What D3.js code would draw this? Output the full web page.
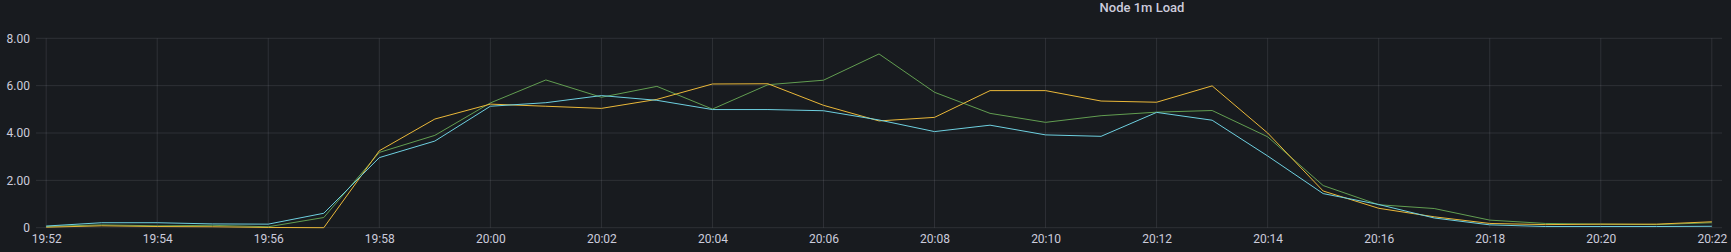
<!DOCTYPE html>
<html>
<head>
<meta charset="utf-8">
<script src="https://cdn.jsdelivr.net/npm/d3@7"></script>
<style>
  html, body { margin: 0; padding: 0; background: #181b1f; }
  #chart { width: 1731px; height: 252px; overflow: hidden; }
  text { font-family: Roboto, "Noto Sans", sans-serif; fill: #ccccdc; }
</style>
</head>
<body>
<div id="chart"></div>
<script>
const times = [
  "19:52","19:53","19:54","19:55","19:56","19:57","19:58","19:59",
  "20:00","20:01","20:02","20:03","20:04","20:05","20:06","20:07",
  "20:08","20:09","20:10","20:11","20:12","20:13","20:14","20:15",
  "20:16","20:17","20:18","20:19","20:20","20:21","20:22"
];
const loadA = [0.05,0.12,0.08,0.10,0.04,0.43,3.18,3.90,5.27,6.24,5.51,5.97,5.01,6.04,6.23,7.34,
               5.72,4.83,4.45,4.73,4.88,4.95,3.84,1.78,0.97,0.81,0.32,0.18,0.15,0.13,0.21];
const loadB = [0.02,0.08,0.05,0.04,0.01,0.00,3.25,4.59,5.22,5.13,5.04,5.42,6.07,6.08,5.17,4.51,
               4.66,5.79,5.79,5.35,5.30,5.99,4.00,1.55,0.82,0.46,0.18,0.13,0.15,0.15,0.25];
const loadC = [0.07,0.21,0.21,0.16,0.15,0.61,2.96,3.66,5.13,5.28,5.58,5.38,4.99,4.99,4.94,4.55,
               4.06,4.33,3.92,3.86,4.87,4.54,3.03,1.44,0.98,0.41,0.12,0.05,0.05,0.05,0.06];
const seriesNames = ["A", "B", "C"];
const yTicks = [0, 2, 4, 6, 8];
const xDomain = ["19:51:49", "20:22:11"];

const svgWidth = 1731;
const svgHeight = 252;
const margin = { top: 38.3, right: 9, bottom: 24.3, left: 36 };
const width = svgWidth - margin.left - margin.right;
const height = svgHeight - margin.top - margin.bottom;

const parseTime = d3.timeParse("%H:%M");
const parseSec = d3.timeParse("%H:%M:%S");

const svg = d3.select("#chart")
  .append("svg")
  .attr("width", svgWidth)
  .attr("height", svgHeight)
  .style("background", "#181b1f");

// Titulo
svg.append("text")
  .attr("x", 1142)
  .attr("y", 12)
  .attr("text-anchor", "middle")
  .style("font-size", "13px")
  .style("font-weight", 500)
  .text("Node 1m Load");

const g = svg.append("g")
  .attr("transform", `translate(${margin.left},${margin.top})`);

// Escalas
const x = d3.scaleTime()
  .domain(xDomain.map(parseSec))
  .range([0, width]);
const y = d3.scaleLinear()
  .domain([0, 8])
  .range([height, 0]);

// Rejilla
const gridColor = "rgba(204,204,220,0.12)";
const xTicks = x.ticks(d3.timeMinute.every(2));

g.append("g")
  .selectAll("line")
  .data(yTicks)
  .enter()
  .append("line")
  .attr("x1", 0)
  .attr("x2", width)
  .attr("y1", d => y(d))
  .attr("y2", d => y(d))
  .attr("stroke", gridColor);

g.append("g")
  .selectAll("line")
  .data(xTicks)
  .enter()
  .append("line")
  .attr("x1", d => x(d))
  .attr("x2", d => x(d))
  .attr("y1", 0)
  .attr("y2", height)
  .attr("stroke", gridColor);

// Ejes
const yAxis = g.append("g")
  .call(d3.axisLeft(y).tickValues(yTicks).tickSize(0).tickPadding(6)
    .tickFormat(d => d === 0 ? "0" : d3.format(".2f")(d)));
yAxis.select(".domain").remove();
yAxis.selectAll("text").style("font-size", "12px").attr("fill", "#ccccdc");

const xAxis = g.append("g")
  .attr("transform", `translate(0,${height})`)
  .call(d3.axisBottom(x).tickValues(xTicks).tickSize(0).tickPadding(7)
    .tickFormat(d3.timeFormat("%H:%M")));
xAxis.select(".domain").remove();
xAxis.selectAll("text").style("font-size", "12px").attr("fill", "#ccccdc");

// Lineas
const color = d3.scaleOrdinal()
  .domain(seriesNames)
  .range(["#629e51", "#eab839", "#6ed0e0"]);

const series = [loadA, loadB, loadC].map((vals, i) => ({
  name: seriesNames[i],
  values: vals.map((v, j) => ({ t: parseTime(times[j]), v }))
}));

const line = d3.line()
  .x(d => x(d.t))
  .y(d => y(d.v));

g.selectAll(".series")
  .data(series)
  .enter()
  .append("path")
  .attr("class", "series")
  .attr("fill", "none")
  .attr("stroke", d => color(d.name))
  .attr("stroke-width", 1)
  .attr("d", d => line(d.values));
</script>
</body>
</html>
